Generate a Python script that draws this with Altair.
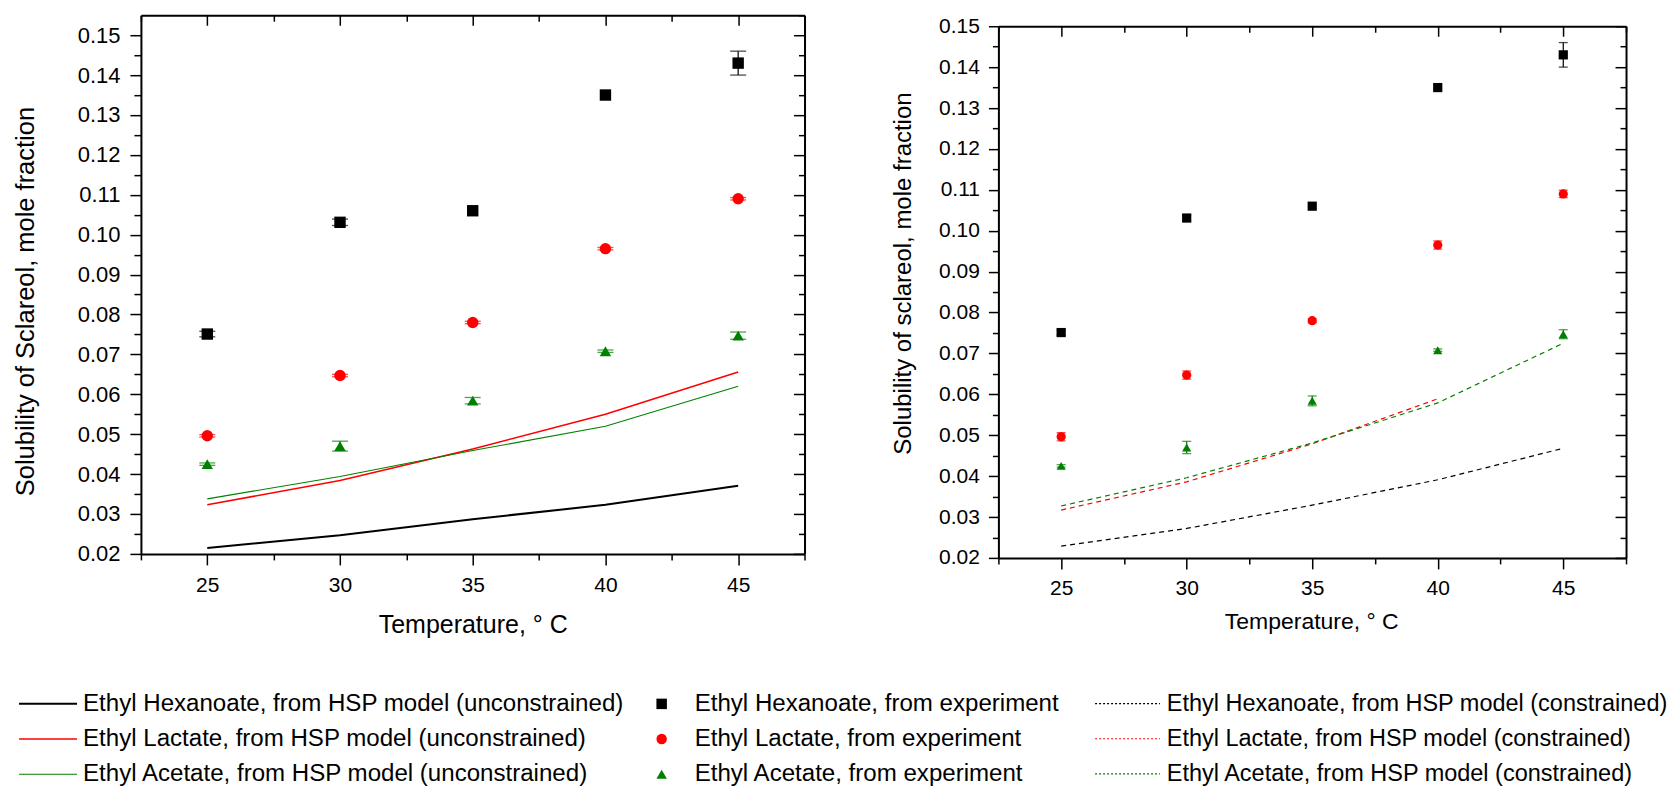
import altair as alt
import pandas as pd

FONT = "Liberation Sans, Arial, sans-serif"

# ---------------- data ----------------
temps = [25, 30, 35, 40, 45]
solvents = ["Ethyl Hexanoate", "Ethyl Lactate", "Ethyl Acetate"]
colors = ["#000000", "#ff0000", "#008000"]
shapes = ["square", "circle", "triangle-up"]

# experimental solubility (mole fraction)
exp_hex = [0.0751, 0.1031, 0.1060, 0.1350, 0.1430]
exp_lac = [0.0496, 0.0647, 0.0780, 0.0965, 0.1090]
exp_ace = [0.0425, 0.0470, 0.0584, 0.0708, 0.0747]

# error bars (half widths) as drawn in left and right panels
err_left_hex = [0.0007, 0.0008, 0.0, 0.0, 0.0030]
err_left_lac = [0.0003, 0.0003, 0.0003, 0.0003, 0.0003]
err_left_ace = [0.0003, 0.00125, 0.0008, 0.0003, 0.0009]
err_right_hex = [0.0006, 0.0007, 0.0, 0.0, 0.0030]
err_right_lac = [0.0010, 0.0010, 0.0005, 0.0010, 0.0009]
err_right_ace = [0.0003, 0.0015, 0.0012, 0.0003, 0.0011]

# HSP model (unconstrained)
unc_hex = [0.0215, 0.0247, 0.0287, 0.0323, 0.0371]
unc_lac = [0.0323, 0.0384, 0.0463, 0.0550, 0.0656]
unc_ace = [0.0338, 0.0394, 0.0459, 0.0520, 0.0620]

# HSP model (constrained)
con_hex = [0.0229, 0.0272, 0.0329, 0.0391, 0.0468]
con_lac = [0.0317, 0.0386, 0.0479, 0.0589, None]
con_ace = [0.0327, 0.0396, 0.0481, 0.0579, 0.0725]

unc_labels = [s + ", from HSP model (unconstrained)" for s in solvents]
exp_labels = [s + ", from experiment" for s in solvents]
con_labels = [s + ", from HSP model (constrained)" for s in solvents]

# axis tick values (major + minor)
x_ticks = [22.5, 25, 27.5, 30, 32.5, 35, 37.5, 40, 42.5, 45, 47.5]
y_ticks = [0.02, 0.025, 0.03, 0.035, 0.04, 0.045, 0.05, 0.055, 0.06, 0.065,
           0.07, 0.075, 0.08, 0.085, 0.09, 0.095, 0.10, 0.105, 0.11, 0.115,
           0.12, 0.125, 0.13, 0.135, 0.14, 0.145, 0.15]
y_ticks_frame_left = y_ticks + [0.155]


def long_df(labels, series, errs=None):
    rows = []
    for i, lab in enumerate(labels):
        for j, t in enumerate(temps):
            v = series[i][j]
            if v is None:
                continue
            r = {"T": t, "v": v, "series": lab}
            if errs is not None:
                r["e"] = errs[i][j]
                r["lo"] = v - errs[i][j]
                r["hi"] = v + errs[i][j]
            rows.append(r)
    return pd.DataFrame(rows)


df_unc = long_df(unc_labels, [unc_hex, unc_lac, unc_ace])
df_con = long_df(con_labels, [con_hex, con_lac, con_ace])
df_exp_L = long_df(exp_labels, [exp_hex, exp_lac, exp_ace],
                   [err_left_hex, err_left_lac, err_left_ace])
df_exp_R = long_df(exp_labels, [exp_hex, exp_lac, exp_ace],
                   [err_right_hex, err_right_lac, err_right_ace])

# ---------------- styling helpers ----------------
X_MAJOR = "datum.value % 5 == 0"
Y_MAJOR = "abs(datum.value*100 - round(datum.value*100)) < 1e-6"
X_LABEL = "datum.value % 5 == 0 ? format(datum.value, 'd') : ''"
Y_LABEL = Y_MAJOR + " ? format(datum.value, '.2f') : ''"


def cond(test, major, minor):
    return {"condition": {"test": test, "value": major}, "value": minor}


COMMON = dict(domainColor="black", domainWidth=2, tickColor="black", tickWidth=1.5,
              grid=False, labelColor="black", labelFont=FONT, titleFont=FONT,
              titleColor="black", titleFontWeight="normal", labelFlush=False,
              labelOverlap=False)

LEG_COMMON = dict(orient="none", title=None, labelFont=FONT, labelColor="black",
                  labelLimit=2000, rowPadding=10.2, direction="vertical", padding=0)


def panel(W, H, ydom, ytitle, xt_fs, yt_fs, ytl_fs, x_title_pos, y_title_pos,
          ytick_major, ytick_minor, ylab_pad, xlab_pad, yticks_lab, yticks_frame,
          point_size, cap_size, lines_df, line_labels, line_legend, line_dash,
          line_widths, exp_df, exp_legend):
    xs = alt.Scale(domain=[22.5, 47.5], nice=False, zero=False)
    ys = alt.Scale(domain=ydom, nice=False, zero=False)

    ax_bottom = alt.Axis(orient="bottom", values=x_ticks, labelExpr=X_LABEL,
                         tickSize=cond(X_MAJOR, 11, 6), labelPadding=xlab_pad,
                         labelFontSize=21, title="Temperature, \u00b0 C", titleFontSize=xt_fs,
                         titleX=x_title_pos[0], titleY=x_title_pos[1],
                         titleBaseline="middle", titleAlign="center", **COMMON)
    ax_top = alt.Axis(orient="bottom", offset=-H, values=x_ticks, labels=False,
                      title=None, tickSize=cond(X_MAJOR, 10, 6), **COMMON)
    ax_left = alt.Axis(orient="left", values=yticks_lab, labelExpr=Y_LABEL,
                       tickSize=cond(Y_MAJOR, ytick_major, ytick_minor),
                       labelPadding=ylab_pad, labelFontSize=ytl_fs, title=ytitle,
                       titleFontSize=yt_fs, titleAngle=270, titleBaseline="middle",
                       titleAlign="center", titleX=y_title_pos[0], titleY=y_title_pos[1],
                       **COMMON)
    ax_right = alt.Axis(orient="left", offset=-W, values=yticks_frame, labels=False,
                        title=None, tickSize=cond(Y_MAJOR, 11, 6), **COMMON)

    lines = alt.Chart(lines_df).mark_line(**({"strokeDash": line_dash} if line_dash else {})).encode(
        x=alt.X("T:Q", scale=xs, axis=ax_bottom),
        y=alt.Y("v:Q", scale=ys, axis=ax_left),
        stroke=alt.Stroke("series:N", scale=alt.Scale(domain=line_labels, range=colors),
                          legend=line_legend),
        strokeWidth=alt.StrokeWidth("series:N",
                                    scale=alt.Scale(domain=line_labels, range=line_widths),
                                    legend=None),
    )
    pts = alt.Chart(exp_df).mark_point(filled=True, opacity=1, size=point_size).encode(
        x=alt.X("T:Q", scale=xs, axis=ax_top),
        y=alt.Y("v:Q", scale=ys, axis=ax_right),
        fill=alt.Fill("series:N", scale=alt.Scale(domain=exp_labels, range=colors),
                      legend=exp_legend),
        shape=alt.Shape("series:N", scale=alt.Scale(domain=exp_labels, range=shapes),
                        legend=exp_legend),
    )
    ecol = alt.Color("series:N", scale=alt.Scale(domain=exp_labels, range=colors), legend=None)
    ebase = alt.Chart(exp_df).transform_filter("datum.e > 0")
    rules = ebase.mark_rule(strokeWidth=1.2).encode(
        x=alt.X("T:Q", scale=xs, axis=None),
        y=alt.Y("lo:Q", scale=ys, axis=None), y2="hi:Q", color=ecol)
    cap_lo = ebase.mark_tick(orient="horizontal", size=cap_size, thickness=1.3).encode(
        x=alt.X("T:Q", scale=xs, axis=None), y=alt.Y("lo:Q", scale=ys, axis=None), color=ecol)
    cap_hi = ebase.mark_tick(orient="horizontal", size=cap_size, thickness=1.3).encode(
        x=alt.X("T:Q", scale=xs, axis=None), y=alt.Y("hi:Q", scale=ys, axis=None), color=ecol)

    return alt.layer(lines, pts, rules, cap_lo, cap_hi).resolve_axis(
        x="independent", y="independent").properties(width=W, height=H)


# legends
legend_unc = alt.Legend(legendX=-85, legendY=677, symbolType="M-5.444,0H1", symbolSize=324,
                        symbolStrokeWidth=1.2, labelOffset=3, labelFontSize=24.1,
                        **LEG_COMMON)
legend_exp = alt.Legend(legendX=509, legendY=677, symbolSize=110, symbolStrokeWidth=0,
                        symbolOpacity=1, labelOffset=21, labelFontSize=24.1, **LEG_COMMON)
legend_con = alt.Legend(legendX=141, legendY=677, symbolType="M-6.222,0H1", symbolSize=324,
                        symbolStrokeWidth=1.2, symbolDash=[2, 2], labelOffset=4,
                        labelFontSize=23.5, **LEG_COMMON)

left = panel(W=664, H=539, ydom=[0.02, 0.155],
             ytitle="Solubility of Sclareol, mole fraction", xt_fs=25, yt_fs=25.5, ytl_fs=22,
             x_title_pos=(332, 71), y_title_pos=(-115.5, 286), ytick_major=11, ytick_minor=7,
             ylab_pad=10, xlab_pad=10, yticks_lab=y_ticks, yticks_frame=y_ticks_frame_left,
             point_size=130, cap_size=16, lines_df=df_unc, line_labels=unc_labels,
             line_legend=legend_unc, line_dash=None, line_widths=[2.0, 1.1, 1.1],
             exp_df=df_exp_L, exp_legend=legend_exp)

right = panel(W=628, H=532, ydom=[0.02, 0.15],
              ytitle="Solubility of sclareol, mole fraction", xt_fs=23, yt_fs=24, ytl_fs=21,
              x_title_pos=(313, 64), y_title_pos=(-95.3, 247), ytick_major=10, ytick_minor=6,
              ylab_pad=9, xlab_pad=9, yticks_lab=y_ticks, yticks_frame=y_ticks,
              point_size=85, cap_size=9, lines_df=df_con, line_labels=con_labels,
              line_legend=legend_con, line_dash=[5, 4], line_widths=[1.2, 1.2, 1.2],
              exp_df=df_exp_R, exp_legend=None)

# invisible spacer that lowers the right panel by 11 px
spacer = alt.Chart(pd.DataFrame({"s": [0]})).mark_point(opacity=0).encode(
    x=alt.X("s:Q", axis=None), y=alt.Y("s:Q", axis=None)
).properties(width=628, height=1)

right_col = alt.vconcat(spacer, right, spacing=10, bounds="flush")

chart = alt.hconcat(left, right_col, spacing=194, bounds="flush").resolve_scale(
    x="independent", y="independent", stroke="independent", strokeWidth="independent",
    fill="independent", shape="independent", color="independent"
).resolve_legend(
    stroke="independent", fill="independent", shape="independent"
).properties(
    padding={"left": 5, "top": 4, "right": 0, "bottom": 0}
).configure(
    font=FONT, view=alt.ViewConfig(stroke="transparent", strokeWidth=0)
)

chart.save("out.html", embed_options={"renderer": "svg", "actions": False})
